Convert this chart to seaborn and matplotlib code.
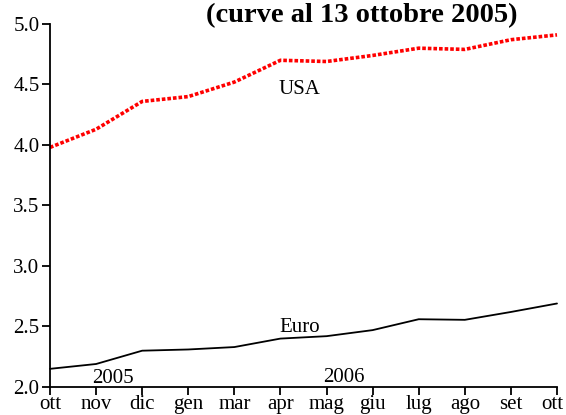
import matplotlib
matplotlib.use("Agg")
import matplotlib.pyplot as plt
import matplotlib.transforms as mtransforms
import pandas as pd
import seaborn as sns

months = ["ott", "nov", "dic", "gen", "mar", "apr", "mag", "giu", "lug", "ago", "set", "ott"]
usa = [3.98, 4.13, 4.36, 4.40, 4.52, 4.70, 4.69, 4.74, 4.80, 4.79, 4.87, 4.91]
euro = [2.15, 2.19, 2.30, 2.31, 2.33, 2.40, 2.42, 2.47, 2.56, 2.555, 2.62, 2.69]
y_ticks = [2.0, 2.5, 3.0, 3.5, 4.0, 4.5, 5.0]

sns.set_theme(style="ticks")
plt.rcParams["font.family"] = ["Liberation Serif", "DejaVu Serif"]
plt.rcParams["text.color"] = "black"

pos = list(range(len(months)))
df = pd.DataFrame({"pos": pos, "USA": usa, "Euro": euro})

fig = plt.figure(figsize=(5.66, 4.15), dpi=100)
ax = fig.add_axes([0.0883, 0.0675, 0.8958, 0.8747])

sns.lineplot(data=df, x="pos", y="USA", ax=ax, color="#ff0000", linewidth=2.6,
             linestyle=(0, (1, 0.55)), clip_on=False)
sns.lineplot(data=df, x="pos", y="Euro", ax=ax, color="black", linewidth=1.3, clip_on=False)

ax.set_xlim(0, len(months) - 1)
ax.set_ylim(2.0, 5.0)
ax.set_xticks(pos)
ax.set_xticklabels(months)
ax.set_yticks(y_ticks)
ax.set_yticklabels([f"{v:.1f}" for v in y_ticks])
ax.set_xlabel("")
ax.set_ylabel("")
ax.tick_params(axis="both", labelsize=15, length=5.5, width=1.3, colors="black", pad=2)
ax.tick_params(axis="x", pad=0.5)
for side in ["top", "right"]:
    ax.spines[side].set_visible(False)
for side in ["left", "bottom"]:
    ax.spines[side].set_linewidth(1.3)
    ax.spines[side].set_color("black")

# last month label sits a bit left of its tick so it stays inside the canvas
last = ax.get_xticklabels()[-1]
last.set_transform(last.get_transform() + mtransforms.ScaledTranslation(-5 / 100, 0, fig.dpi_scale_trans))

ax.text(4.95, 4.42, "USA", fontsize=15, ha="left", va="baseline")
ax.text(4.97, 2.455, "Euro", fontsize=15, ha="left", va="baseline")
ax.text(0.91, 2.03, "2005", fontsize=15, ha="left", va="baseline")
ax.text(5.92, 2.04, "2006", fontsize=15, ha="left", va="baseline")

fig.text(0.64, 0.947, "(curve al 13 ottobre 2005)", fontsize=20.5, fontweight="bold",
         ha="center", va="baseline")

fig.savefig("out.png", dpi=100)
